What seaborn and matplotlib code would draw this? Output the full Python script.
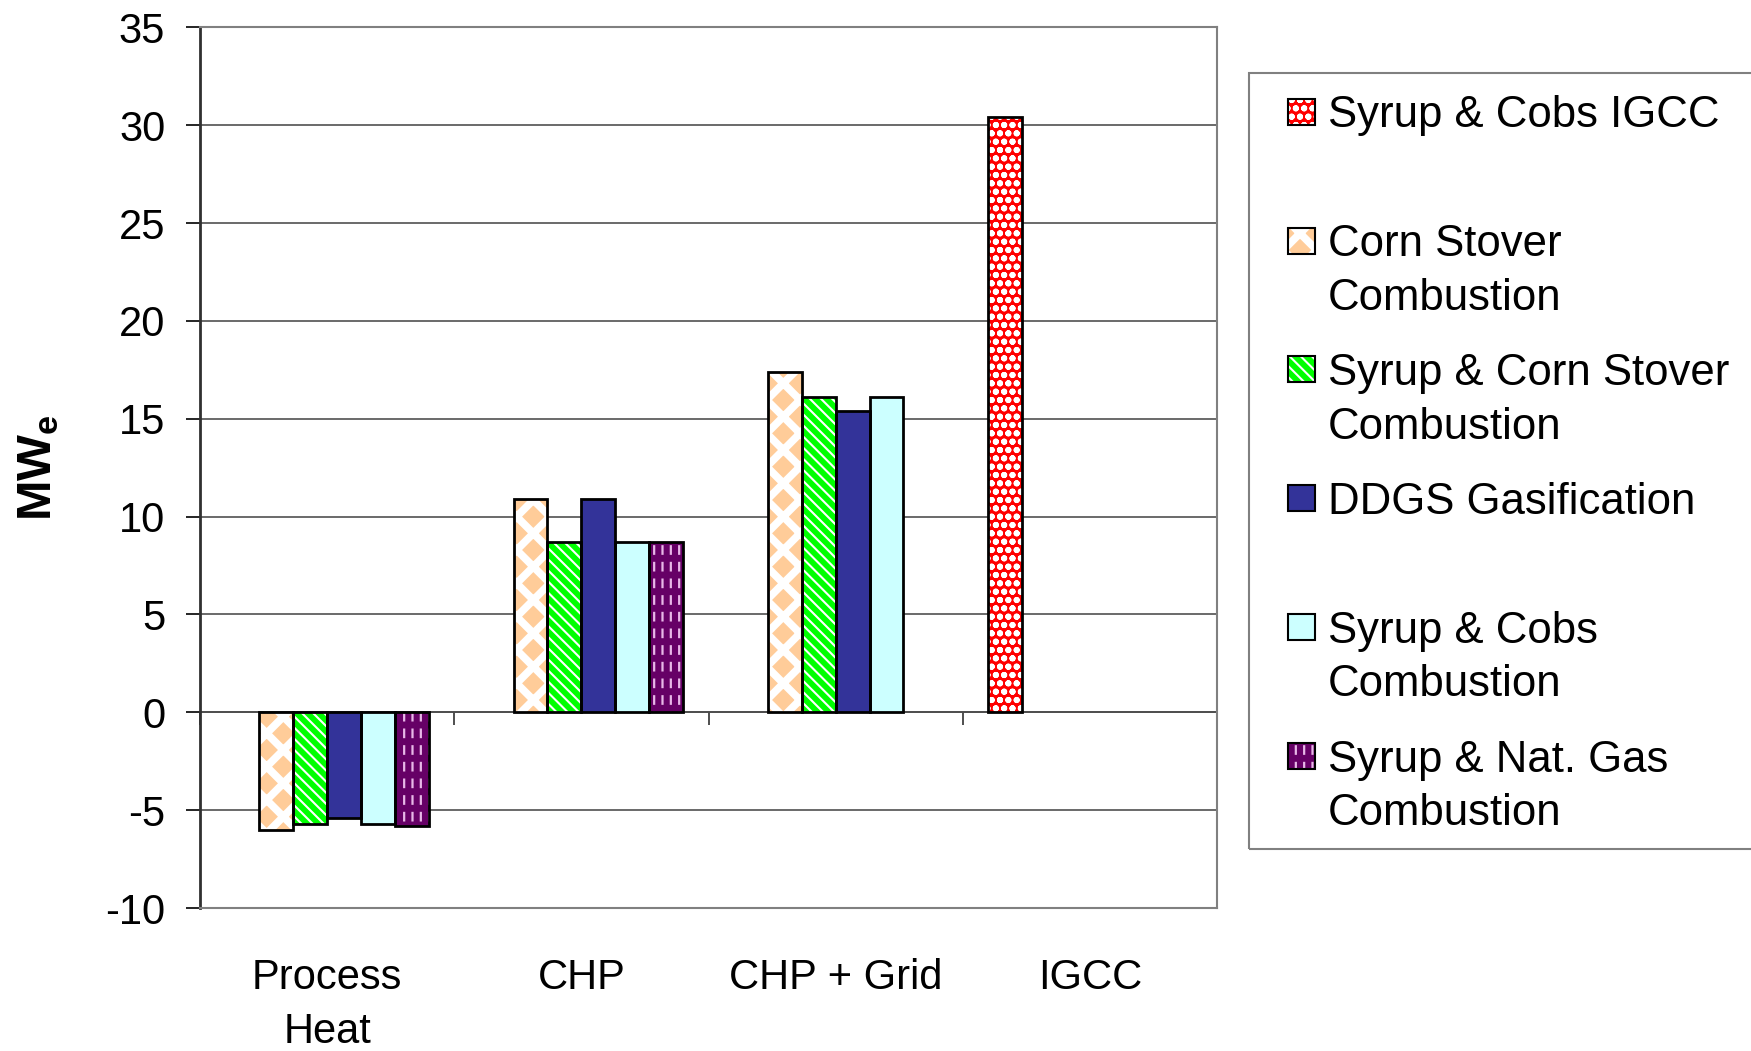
import matplotlib
matplotlib.use("Agg")
import matplotlib as mpl
import matplotlib.pyplot as plt
from matplotlib.patches import Rectangle
from matplotlib.colors import to_hex
import pandas as pd
import seaborn as sns

# ---- data -------------------------------------------------------------
categories = ["Process\nHeat", "CHP", "CHP + Grid", "IGCC"]
series = [
    "Syrup & Cobs IGCC",
    "Corn Stover Combustion",
    "Syrup & Corn Stover Combustion",
    "DDGS Gasification",
    "Syrup & Cobs Combustion",
    "Syrup & Nat. Gas Combustion",
]
legend_lines = [
    ["Syrup & Cobs IGCC"],
    ["Corn Stover", "Combustion"],
    ["Syrup & Corn Stover", "Combustion"],
    ["DDGS Gasification"],
    ["Syrup & Cobs", "Combustion"],
    ["Syrup & Nat. Gas", "Combustion"],
]

syrup_cobs_igcc = [None, None, None, 30.4]
corn_stover = [-6.0, 10.9, 17.4, None]
syrup_corn_stover = [-5.7, 8.7, 16.1, None]
ddgs_gasification = [-5.4, 10.9, 15.4, None]
syrup_cobs = [-5.7, 8.7, 16.1, None]
syrup_nat_gas = [-5.8, 8.7, None, None]

y_ticks = list(range(-10, 36, 5))

values = [syrup_cobs_igcc, corn_stover, syrup_corn_stover,
          ddgs_gasification, syrup_cobs, syrup_nat_gas]
rows = []
for name, vals in zip(series, values):
    for cat, v in zip(categories, vals):
        if v is not None:
            rows.append({"category": cat, "series": name, "MWe": v})
df = pd.DataFrame(rows)

# ---- fill styles ------------------------------------------------------
styles = {
    "Syrup & Cobs IGCC": dict(face="#FF0000", hatch="oo", hc="#FFFFFF", hlw=2.0),
    "Corn Stover Combustion": dict(face="#FFCC99", hatch="x", hc="#FFFFFF", hlw=5.5),
    "Syrup & Corn Stover Combustion": dict(face="#00FF00", hatch="\\\\\\", hc="#FFFFFF", hlw=1.5),
    "DDGS Gasification": dict(face="#333399"),
    "Syrup & Cobs Combustion": dict(face="#CCFFFF"),
    "Syrup & Nat. Gas Combustion": dict(face="#660066", hatch="||", hc="#E8B8E8", hlw=1.6,
                                        cut="-", cut_lw=5.0),
}
palette = {k: v["face"] for k, v in styles.items()}
face_to_series = {v["face"].lower(): k for k, v in styles.items()}


def style_patch(ax_, p, st, outline_lw):
    p.set_facecolor(st["face"])
    if st.get("hatch"):
        p.set_hatch(st["hatch"])
        p.set_edgecolor(st["hc"])
        p.set_linewidth(0)
        if hasattr(p, "set_hatch_linewidth"):
            p.set_hatch_linewidth(st["hlw"])
    else:
        p.set_linewidth(0)
    xy, w, h = p.get_xy(), p.get_width(), p.get_height()
    z = p.get_zorder()
    if st.get("cut"):
        cut = Rectangle(xy, w, h, fill=False, hatch=st["cut"],
                        edgecolor=st["face"], linewidth=0, zorder=z + 0.1)
        if hasattr(cut, "set_hatch_linewidth"):
            cut.set_hatch_linewidth(st["cut_lw"])
        ax_.add_patch(cut)
    ax_.add_patch(Rectangle(xy, w, h, fill=False, edgecolor="black",
                            linewidth=outline_lw, zorder=z + 0.2))


# ---- figure -----------------------------------------------------------
W, H = 1751, 1051
fig = plt.figure(figsize=(W / 100, H / 100), dpi=100)
plt.rcParams["font.family"] = ["Liberation Sans", "DejaVu Sans"]
plt.rcParams["mathtext.fontset"] = "custom"
plt.rcParams["mathtext.rm"] = "Liberation Sans"
plt.rcParams["mathtext.bf"] = "Liberation Sans:bold"
plt.rcParams["hatch.linewidth"] = 1.6

ax = fig.add_axes([200 / W, 1 - 908 / H, 1017 / W, 880.7 / H])
sns.barplot(data=df, x="category", y="MWe", hue="series", order=categories,
            hue_order=series, palette=palette, saturation=1, errorbar=None,
            width=0.8, dodge=True, legend=False, ax=ax)

for cont in ax.containers:
    for p in list(cont.patches):
        name = face_to_series[to_hex(p.get_facecolor()).lower()]
        style_patch(ax, p, styles[name], 2.0)

ax.set_xlim(-0.5, len(categories) - 0.5)
ax.set_ylim(-10, 35)
ax.set_yticks(y_ticks)
ax.set_yticklabels([str(t) for t in y_ticks])
ax.set_axisbelow(True)
ax.yaxis.grid(True, color="#505050", linewidth=1.2)
ax.xaxis.grid(False)
ax.set_facecolor("white")

for side in ("top", "right", "bottom"):
    ax.spines[side].set_color("#808080")
    ax.spines[side].set_linewidth(1.5)
ax.spines["left"].set_color("#303030")
ax.spines["left"].set_linewidth(2.0)

ax.tick_params(axis="y", direction="out", length=10, width=1.2, color="black",
               labelsize=30, pad=15)
ax.tick_params(axis="x", length=0, labelsize=30, pad=36)
for lbl in ax.get_xticklabels():
    lbl.set_linespacing(1.45)
ax.set_xlabel("")
ax.set_ylabel(r"$\mathbf{MW_e}$", fontsize=35, va="center")
ax.yaxis.set_label_coords(-0.159, 0.5)

# category axis crossing at zero, with ticks between groups
zero_pos = (0 - (-10)) / 45
sec = ax.secondary_xaxis(zero_pos)
sec.set_xticks([i - 0.5 for i in range(len(categories) + 1)])
sec.tick_params(axis="x", direction="out", length=9.5, width=1.2, color="#303030",
                labelbottom=False, labeltop=False)
for side in sec.spines:
    sec.spines[side].set_color("#303030")
    sec.spines[side].set_linewidth(1.2)

# ---- legend panel -----------------------------------------------------
lx0, ly_top, ly_bot = 1248.5, 72.6, 848.7
lw_px = W - lx0 + 10
lh_px = ly_bot - ly_top
leg = fig.add_axes([lx0 / W, 1 - ly_bot / H, lw_px / W, lh_px / H])
leg.set_xlim(0, lw_px)
leg.set_ylim(lh_px, 0)
leg.axis("off")
leg.add_patch(Rectangle((0, 0), 1, 1, transform=leg.transAxes, fill=False,
                        edgecolor="#808080", linewidth=1.5, clip_on=False))

entry_step = 128.9
line_step = 53.6
for i, (name, lines) in enumerate(zip(series, legend_lines)):
    yc = 39 + i * entry_step
    sw = Rectangle((39, yc - 13), 27, 26, zorder=2)
    leg.add_patch(sw)
    style_patch(leg, sw, styles[name], 1.5)
    for k, line in enumerate(lines):
        leg.text(79, yc + 15.5 + k * line_step, line, fontsize=31.5,
                 ha="left", va="baseline", color="black")

fig.savefig("out.png", dpi=100, facecolor="white")
